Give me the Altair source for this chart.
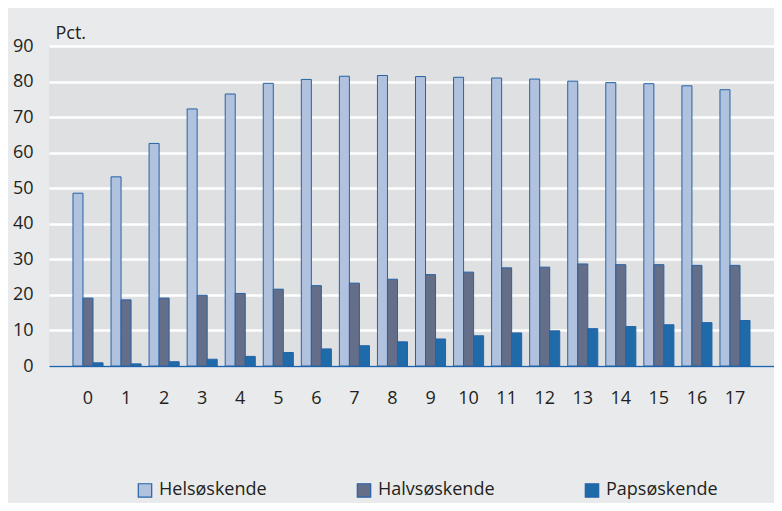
import altair as alt
import pandas as pd

ages = [str(i) for i in range(18)]
series = ["Helsøskende", "Halvsøskende", "Papsøskende"]
hel = [48.6, 53.2, 62.6, 72.3, 76.5, 79.5, 80.6, 81.5, 81.7, 81.4, 81.2, 81.0, 80.7, 80.1, 79.7, 79.4, 78.8, 77.7]
halv = [19.1, 18.6, 19.1, 19.9, 20.4, 21.6, 22.6, 23.3, 24.4, 25.7, 26.4, 27.6, 27.8, 28.7, 28.5, 28.5, 28.3, 28.3]
paps = [0.9, 0.6, 1.2, 1.9, 2.7, 3.8, 4.8, 5.7, 6.8, 7.6, 8.5, 9.3, 9.9, 10.5, 11.1, 11.6, 12.2, 12.8]
colors = ["#B1C2DF", "#646E88", "#1F6BAA"]
y_ticks = list(range(0, 100, 10))

rows = []
for name, vals in zip(series, [hel, halv, paps]):
    for a, v in zip(ages, vals):
        rows.append({"age": a, "serie": name, "value": v})
df = pd.DataFrame(rows)

FONT = "Open Sans"
TXT = "#231F20"

chart = alt.Chart(df).mark_bar(stroke="#2563A6", strokeWidth=1).encode(
    x=alt.X("age:N", sort=ages,
            scale=alt.Scale(paddingInner=0.21, paddingOuter=0.63),
            axis=alt.Axis(title=None, labelAngle=0, ticks=False, domain=True,
                          domainColor="#1F62A8", domainWidth=1.5,
                          labelFontSize=18, labelFont=FONT, labelColor=TXT,
                          labelPadding=23, grid=False)),
    xOffset=alt.XOffset("serie:N", sort=series,
                        scale=alt.Scale(paddingInner=0, paddingOuter=0)),
    y=alt.Y("value:Q", scale=alt.Scale(domain=[0, 90], nice=False),
            axis=alt.Axis(values=y_ticks, title="Pct.", titleAngle=0,
                          titleX=6, titleY=-8, titleAlign="left",
                          titleBaseline="alphabetic", titleFont=FONT,
                          titleFontSize=18, titleFontWeight="normal", titleColor=TXT,
                          grid=True, gridColor="white", gridWidth=2.5,
                          domain=False, ticks=False, labelPadding=16,
                          labelFontSize=18, labelFont=FONT, labelColor=TXT)),
    color=alt.Color("serie:N", sort=series,
                    scale=alt.Scale(domain=series, range=colors),
                    legend=alt.Legend(orient="none", direction="horizontal",
                                      legendX=87, legendY=435, title=None,
                                      symbolType="square", symbolSize=180,
                                      symbolStrokeColor="#2563A6", symbolStrokeWidth=1.2,
                                      columnPadding=87, labelOffset=5, padding=0,
                                      labelFontSize=18, labelFont=FONT, labelColor=TXT)),
).properties(
    width=725, height=320,
    background="#E9EAEC",
    padding={"left": 41, "top": 38, "right": 0, "bottom": 137},
    autosize=alt.AutoSizeParams(type="none"),
).configure_view(fill="#DFE0E2", stroke=None)

chart.save("out.html", embed_options={"renderer": "svg", "actions": False})
